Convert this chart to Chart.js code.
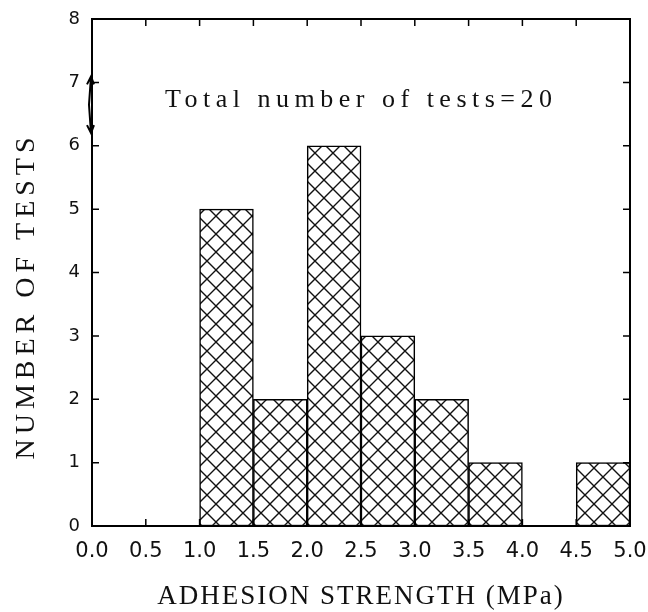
<!DOCTYPE html>
<html>
<head>
<meta charset="utf-8">
<script src="https://cdn.jsdelivr.net/npm/chart.js@4.4.1/dist/chart.umd.min.js"></script>
<style>
  html, body { margin: 0; padding: 0; background: #fff; }
  #wrap { width: 648px; height: 612px; }
</style>
</head>
<body>
<div id="wrap"><canvas id="histChart" width="648" height="612"></canvas></div>
<script>
// histogram bins (MPa) and counts
const binLabels = ['0.0-0.5', '0.5-1.0', '1.0-1.5', '1.5-2.0', '2.0-2.5', '2.5-3.0', '3.0-3.5', '3.5-4.0', '4.0-4.5', '4.5-5.0'];
const counts = [0, 0, 5, 2, 6, 3, 2, 1, 0, 1];
const xTicks = [0.0, 0.5, 1.0, 1.5, 2.0, 2.5, 3.0, 3.5, 4.0, 4.5, 5.0];
const yTicks = [0, 1, 2, 3, 4, 5, 6, 7, 8];

const serif = '"Liberation Serif", "DejaVu Serif", serif';

// cross-hatch fill
function makeHatch() {
    const n = 18;
    const c = document.createElement('canvas');
    c.width = n; c.height = n;
    const g = c.getContext('2d');
    g.fillStyle = '#fff';
    g.fillRect(0, 0, n, n);
    g.strokeStyle = '#111';
    g.lineWidth = 1.4;
    g.beginPath();
    g.moveTo(-2, -2); g.lineTo(n + 2, n + 2);
    g.moveTo(n + 2, -2); g.lineTo(-2, n + 2);
    g.stroke();
    return g.createPattern(c, 'repeat');
}

const framePlugin = {
    id: 'frame',
    afterDatasetsDraw(chart) {
        const ctx = chart.ctx;
        const a = chart.chartArea;
        const xs = chart.scales.xv;
        const ys = chart.scales.y;
        ctx.save();
        ctx.strokeStyle = '#000';
        ctx.lineWidth = 2;
        ctx.strokeRect(a.left, a.top, a.right - a.left, a.bottom - a.top);
        ctx.lineWidth = 1.5;
        ctx.beginPath();
        xTicks.forEach(v => {
            const px = xs.getPixelForValue(v);
            ctx.moveTo(px, a.top); ctx.lineTo(px, a.top + 7);
            ctx.moveTo(px, a.bottom); ctx.lineTo(px, a.bottom - 7);
        });
        yTicks.forEach(v => {
            const py = ys.getPixelForValue(v);
            ctx.moveTo(a.left, py); ctx.lineTo(a.left + 7, py);
            ctx.moveTo(a.right, py); ctx.lineTo(a.right - 7, py);
        });
        ctx.stroke();

        // small double arrow on the left axis near 7
        const y1 = ys.getPixelForValue(7) - 6, y2 = ys.getPixelForValue(6.2);
        const ax = a.left - 1;
        ctx.lineWidth = 2;
        ctx.beginPath();
        ctx.moveTo(ax, y1); ctx.lineTo(ax - 2, (y1 + y2) / 2); ctx.lineTo(ax, y2);
        ctx.moveTo(ax - 4, y1 + 8); ctx.lineTo(ax, y1); ctx.lineTo(ax + 3, y1 + 8);
        ctx.moveTo(ax - 4, y2 - 8); ctx.lineTo(ax, y2); ctx.lineTo(ax + 3, y2 - 8);
        ctx.stroke();

        // annotation
        ctx.fillStyle = '#111';
        ctx.textBaseline = 'alphabetic';
        ctx.font = '26px ' + serif;
        ctx.letterSpacing = '5.5px';
        ctx.textAlign = 'left';
        ctx.fillText('Total number of tests=20', 165, 107);

        // axis titles
        ctx.font = '27px ' + serif;
        ctx.letterSpacing = '2px';
        ctx.textAlign = 'center';
        ctx.fillText('ADHESION STRENGTH (MPa)', 361, 604);

        ctx.translate(34, 296);
        ctx.rotate(-Math.PI / 2);
        ctx.font = '28px ' + serif;
        ctx.letterSpacing = '5px';
        ctx.fillText('NUMBER OF TESTS', 0, 0);
        ctx.restore();
    }
};

const ctxHist = document.getElementById('histChart').getContext('2d');
const histChart = new Chart(ctxHist, {
    type: 'bar',
    data: {
        labels: binLabels,
        datasets: [{
            data: counts,
            backgroundColor: makeHatch(),
            borderColor: '#000',
            borderWidth: 1.5,
            borderSkipped: false,
            barPercentage: 1,
            categoryPercentage: 1,
            xAxisID: 'x'
        }]
    },
    options: {
        responsive: false,
        animation: false,
        layout: { padding: { top: 19, right: 18, left: 0, bottom: 0 } },
        plugins: { legend: { display: false }, tooltip: { enabled: false } },
        scales: {
            x: {
                display: false,
                grid: { display: false }
            },
            xv: {
                type: 'linear',
                position: 'bottom',
                offset: false,
                min: 0,
                max: 5,
                afterBuildTicks: s => { s.ticks = xTicks.map(v => ({ value: v })); },
                grid: { display: false, drawTicks: false },
                border: { display: false },
                ticks: {
                    padding: 13,
                    color: '#111',
                    font: { family: '"DejaVu Sans", sans-serif', size: 21 },
                    callback: v => Number(v).toFixed(1),
                    maxRotation: 0,
                    autoSkip: false
                },
                afterFit: s => { s.height = 86; s.paddingLeft = 0; s.paddingRight = 0; }
            },
            y: {
                min: 0,
                max: 8,
                afterBuildTicks: s => { s.ticks = yTicks.map(v => ({ value: v })); },
                grid: { display: false, drawTicks: false },
                border: { display: false },
                ticks: {
                    padding: 12,
                    color: '#111',
                    font: { family: '"DejaVu Sans", sans-serif', size: 18 }
                },
                afterFit: s => { s.width = 92; s.paddingTop = 0; s.paddingBottom = 0; }
            }
        }
    },
    plugins: [framePlugin]
});
</script>
</body>
</html>
